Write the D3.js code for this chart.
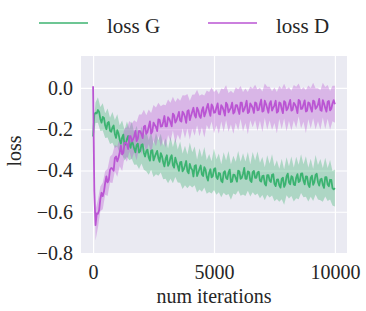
<!DOCTYPE html>
<meta charset="utf-8">
<style>
body { margin: 0; background: #fff; }
svg text { font-family: "Liberation Serif", "Times New Roman", serif; fill: #262626; }
.grid line { stroke: #fff; stroke-width: 1.2px; }
</style>
<svg width="366" height="311"></svg>
<script src="https://d3js.org/d3.v7.min.js"></script>
<script>
// mean curves logged every 50 iterations
var iterations = [0,50,100,150,200,250,300,350,400,450,500,550,600,650,700,750,800,850,900,950,
  1000,1050,1100,1150,1200,1250,1300,1350,1400,1450,1500,1550,1600,1650,1700,1750,1800,1850,1900,1950,
  2000,2050,2100,2150,2200,2250,2300,2350,2400,2450,2500,2550,2600,2650,2700,2750,2800,2850,2900,2950,
  3000,3050,3100,3150,3200,3250,3300,3350,3400,3450,3500,3550,3600,3650,3700,3750,3800,3850,3900,3950,
  4000,4050,4100,4150,4200,4250,4300,4350,4400,4450,4500,4550,4600,4650,4700,4750,4800,4850,4900,4950,
  5000,5050,5100,5150,5200,5250,5300,5350,5400,5450,5500,5550,5600,5650,5700,5750,5800,5850,5900,5950,
  6000,6050,6100,6150,6200,6250,6300,6350,6400,6450,6500,6550,6600,6650,6700,6750,6800,6850,6900,6950,
  7000,7050,7100,7150,7200,7250,7300,7350,7400,7450,7500,7550,7600,7650,7700,7750,7800,7850,7900,7950,
  8000,8050,8100,8150,8200,8250,8300,8350,8400,8450,8500,8550,8600,8650,8700,8750,8800,8850,8900,8950,
  9000,9050,9100,9150,9200,9250,9300,9350,9400,9450,9500,9550,9600,9650,9700,9750,9800,9850,9900,9950,10000];

var lossG = [-0.235,-0.130,-0.120,-0.123,-0.107,-0.116,-0.150,-0.168,-0.140,-0.145,-0.182,-0.200,-0.170,-0.165,-0.208,-0.212,-0.191,-0.182,-0.223,-0.242,
  -0.205,-0.220,-0.251,-0.270,-0.240,-0.226,-0.277,-0.271,-0.248,-0.233,-0.274,-0.290,-0.253,-0.272,-0.294,-0.312,-0.277,-0.270,-0.313,-0.305,
  -0.276,-0.273,-0.315,-0.332,-0.306,-0.299,-0.337,-0.352,-0.304,-0.301,-0.351,-0.334,-0.318,-0.305,-0.340,-0.358,-0.316,-0.331,-0.361,-0.380,
  -0.342,-0.326,-0.378,-0.366,-0.338,-0.326,-0.374,-0.386,-0.338,-0.360,-0.378,-0.402,-0.360,-0.358,-0.404,-0.394,-0.376,-0.354,-0.404,-0.414,
  -0.368,-0.388,-0.397,-0.429,-0.378,-0.374,-0.427,-0.411,-0.392,-0.376,-0.419,-0.427,-0.384,-0.396,-0.431,-0.449,-0.412,-0.394,-0.433,-0.427,
  -0.394,-0.389,-0.432,-0.441,-0.412,-0.415,-0.450,-0.457,-0.410,-0.403,-0.436,-0.442,-0.410,-0.396,-0.456,-0.453,-0.420,-0.421,-0.438,-0.454,
  -0.401,-0.404,-0.440,-0.435,-0.416,-0.387,-0.440,-0.440,-0.404,-0.407,-0.448,-0.456,-0.408,-0.402,-0.436,-0.436,-0.410,-0.406,-0.449,-0.454,
  -0.427,-0.425,-0.464,-0.473,-0.422,-0.422,-0.449,-0.456,-0.421,-0.418,-0.465,-0.476,-0.444,-0.443,-0.472,-0.483,-0.441,-0.435,-0.480,-0.467,
  -0.428,-0.415,-0.458,-0.467,-0.428,-0.433,-0.468,-0.471,-0.434,-0.418,-0.456,-0.451,-0.415,-0.414,-0.450,-0.467,-0.429,-0.430,-0.468,-0.480,
  -0.435,-0.425,-0.470,-0.456,-0.421,-0.416,-0.457,-0.473,-0.444,-0.440,-0.470,-0.484,-0.432,-0.432,-0.468,-0.477,-0.445,-0.446,-0.486,-0.491,-0.485];

var lossD = [0.008,-0.500,-0.665,-0.608,-0.610,-0.593,-0.538,-0.508,-0.524,-0.502,-0.460,-0.429,-0.458,-0.445,-0.396,-0.388,-0.391,-0.401,-0.340,-0.332,
  -0.356,-0.338,-0.312,-0.280,-0.322,-0.315,-0.267,-0.264,-0.274,-0.296,-0.234,-0.233,-0.260,-0.250,-0.234,-0.208,-0.258,-0.246,-0.208,-0.210,
  -0.224,-0.243,-0.188,-0.183,-0.222,-0.213,-0.188,-0.162,-0.221,-0.211,-0.168,-0.180,-0.189,-0.209,-0.152,-0.154,-0.187,-0.185,-0.164,-0.136,
  -0.186,-0.186,-0.142,-0.150,-0.166,-0.186,-0.124,-0.132,-0.168,-0.157,-0.137,-0.116,-0.158,-0.163,-0.115,-0.124,-0.140,-0.169,-0.113,-0.108,
  -0.156,-0.135,-0.115,-0.096,-0.132,-0.143,-0.095,-0.108,-0.136,-0.145,-0.110,-0.093,-0.138,-0.121,-0.096,-0.077,-0.112,-0.135,-0.080,-0.091,
  -0.120,-0.118,-0.095,-0.075,-0.126,-0.128,-0.083,-0.093,-0.110,-0.134,-0.071,-0.081,-0.118,-0.106,-0.095,-0.071,-0.124,-0.116,-0.083,-0.083,
  -0.106,-0.126,-0.071,-0.071,-0.115,-0.105,-0.086,-0.062,-0.122,-0.116,-0.075,-0.085,-0.097,-0.121,-0.070,-0.074,-0.108,-0.106,-0.079,-0.057,
  -0.115,-0.111,-0.062,-0.078,-0.098,-0.120,-0.076,-0.064,-0.110,-0.096,-0.084,-0.062,-0.120,-0.114,-0.070,-0.074,-0.102,-0.122,-0.064,-0.070,
  -0.108,-0.099,-0.078,-0.058,-0.110,-0.106,-0.072,-0.080,-0.094,-0.122,-0.058,-0.064,-0.102,-0.100,-0.080,-0.060,-0.114,-0.110,-0.070,-0.074,
  -0.098,-0.115,-0.061,-0.065,-0.101,-0.093,-0.081,-0.053,-0.107,-0.111,-0.059,-0.075,-0.097,-0.115,-0.067,-0.063,-0.109,-0.101,-0.075,-0.059,-0.079];

// spread of the shaded band, every 100 iterations
var bandIterations = [0,100,200,300,400,500,600,700,800,900,
  1000,1100,1200,1300,1400,1500,1600,1700,1800,1900,
  2000,2100,2200,2300,2400,2500,2600,2700,2800,2900,
  3000,3100,3200,3300,3400,3500,3600,3700,3800,3900,
  4000,4100,4200,4300,4400,4500,4600,4700,4800,4900,
  5000,5100,5200,5300,5400,5500,5600,5700,5800,5900,
  6000,6100,6200,6300,6400,6500,6600,6700,6800,6900,
  7000,7100,7200,7300,7400,7500,7600,7700,7800,7900,
  8000,8100,8200,8300,8400,8500,8600,8700,8800,8900,
  9000,9100,9200,9300,9400,9500,9600,9700,9800,9900,10000];
var spreadG = [0.02,0.05,0.062,0.058,0.066,0.06,0.07,0.064,0.074,0.068,
  0.078,0.07,0.082,0.074,0.086,0.076,0.09,0.078,0.094,0.08,
  0.09,0.082,0.098,0.084,0.092,0.08,0.1,0.086,0.094,0.082,
  0.098,0.084,0.102,0.088,0.094,0.08,0.1,0.086,0.096,0.082,
  0.104,0.086,0.094,0.08,0.1,0.084,0.098,0.082,0.092,0.078,
  0.1,0.086,0.094,0.08,0.098,0.084,0.104,0.086,0.092,0.08,
  0.096,0.082,0.1,0.084,0.094,0.078,0.098,0.084,0.102,0.086,
  0.092,0.08,0.096,0.082,0.1,0.084,0.094,0.08,0.098,0.086,
  0.092,0.078,0.096,0.082,0.1,0.084,0.094,0.08,0.098,0.082,
  0.092,0.078,0.096,0.084,0.1,0.082,0.094,0.08,0.096,0.084,0.09];
var spreadD = [0.005,0.075,0.068,0.06,0.064,0.058,0.066,0.062,0.07,0.064,
  0.074,0.068,0.08,0.07,0.084,0.074,0.088,0.078,0.092,0.08,
  0.096,0.082,0.09,0.084,0.1,0.086,0.094,0.08,0.098,0.084,
  0.102,0.086,0.094,0.082,0.1,0.088,0.096,0.08,0.104,0.084,
  0.094,0.082,0.1,0.086,0.098,0.08,0.102,0.084,0.092,0.082,
  0.1,0.086,0.096,0.08,0.104,0.084,0.094,0.082,0.098,0.086,
  0.1,0.08,0.096,0.084,0.102,0.082,0.094,0.086,0.1,0.08,
  0.098,0.084,0.104,0.082,0.094,0.086,0.1,0.08,0.098,0.084,
  0.102,0.082,0.096,0.086,0.1,0.08,0.094,0.084,0.104,0.082,
  0.098,0.086,0.1,0.08,0.096,0.084,0.102,0.082,0.094,0.086,0.09];

var seriesNames = ["loss G", "loss D"];
var seriesColors = ["#3cb371", "#ba55d3"];
var xTicks = [0, 5000, 10000];
var yTicks = [0, -0.2, -0.4, -0.6, -0.8];

var svg = d3.select("svg");
var plotL = 81, plotR = 347, plotT = 56, plotB = 253;

var x = d3.scaleLinear().domain([-500, 10500]).range([plotL, plotR]);
var y = d3.scaleLinear().domain([-0.8, 0.155]).range([plotB, plotT]);

// background
svg.append("rect")
    .attr("x", plotL).attr("y", plotT)
    .attr("width", plotR - plotL).attr("height", plotB - plotT)
    .attr("fill", "#eaeaf2");

var fmt = function(d) { return d3.format(".1f")(d).replace("-", "\u2212").replace("\u22120.0", "0.0"); };

svg.append("g")
    .attr("class", "grid")
    .attr("transform", "translate(" + plotL + ",0)")
    .call(d3.axisLeft(y).tickValues(yTicks).tickSize(-(plotR - plotL)).tickPadding(8).tickFormat(fmt));
svg.append("g")
    .attr("class", "grid")
    .attr("transform", "translate(0," + plotB + ")")
    .call(d3.axisBottom(x).tickValues(xTicks).tickSize(-(plotB - plotT)).tickPadding(12).tickFormat(d3.format("d")));
svg.selectAll(".grid .domain").remove();
svg.selectAll(".grid text")
    .attr("fill", "#262626")
    .style("font-size", "20px")
    .style("font-family", "'Liberation Serif', serif");

// build series from the arrays
var means = [lossG, lossD];
var spreads = [spreadG, spreadD];
var lines = means.map(function(m) {
  return iterations.map(function(it, i) { return {it: it, m: m[i]}; });
});
var bands = means.map(function(m, k) {
  return bandIterations.map(function(it, i) {
    return {it: it, m: m[iterations.indexOf(it)], s: spreads[k][i]};
  });
});

var area = d3.area()
    .x(function(d) { return x(d.it); })
    .y0(function(d) { return y(d.m - d.s); })
    .y1(function(d) { return y(d.m + d.s); });
var line = d3.line()
    .x(function(d) { return x(d.it); })
    .y(function(d) { return y(d.m); });

// bands under lines
bands.forEach(function(b, k) {
  svg.append("path")
      .datum(b)
      .attr("d", area)
      .attr("fill", seriesColors[k])
      .attr("fill-opacity", 0.35);
});
lines.forEach(function(l, k) {
  svg.append("path")
      .datum(l)
      .attr("d", line)
      .attr("fill", "none")
      .attr("stroke", seriesColors[k])
      .attr("stroke-width", 1.8)
      .attr("stroke-linejoin", "round");
});

// axis labels
svg.append("text")
    .attr("x", 214).attr("y", 303)
    .attr("text-anchor", "middle")
    .style("font-size", "20px")
    .text("num iterations");
svg.append("text")
    .attr("transform", "translate(21,151) rotate(-90)")
    .attr("text-anchor", "middle")
    .style("font-size", "20px")
    .text("loss");

// legend
var legendX = [39, 208];
seriesNames.forEach(function(name, k) {
  var g = svg.append("g").attr("transform", "translate(" + legendX[k] + ",23)");
  g.append("line")
      .attr("x1", 0).attr("x2", 49)
      .attr("stroke", seriesColors[k])
      .attr("stroke-width", 1.5);
  g.append("text")
      .attr("x", 68).attr("y", 9.5)
      .style("font-size", "21px")
      .text(name);
});
</script>
